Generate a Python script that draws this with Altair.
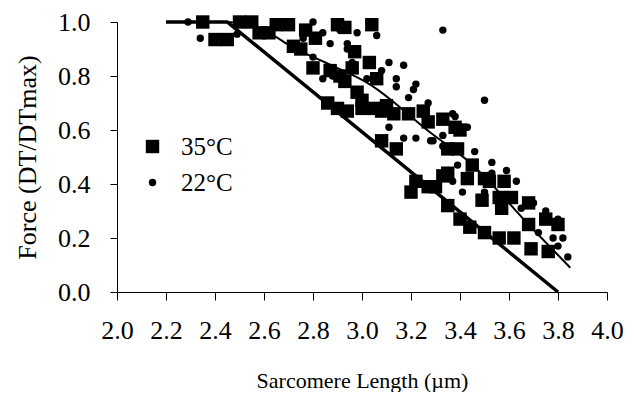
import altair as alt
import pandas as pd

FONT = "Liberation Serif"

# 35°C (squares)
sq_x = [2.35, 2.40, 2.45, 2.50, 2.55, 2.58, 2.62, 2.65, 2.70, 2.77, 2.81, 2.72, 2.75,
        2.90, 2.93, 3.04, 2.97, 3.03, 2.80, 2.87, 2.91, 2.96, 2.93, 2.98, 3.00, 3.06,
        2.86, 2.90, 2.94, 3.00, 3.05, 3.08, 3.13, 3.10, 3.19, 3.25, 3.27, 3.33, 3.38,
        3.40, 3.08, 3.14, 3.35, 3.39, 3.22, 3.20, 3.27, 3.30, 3.33, 3.35, 3.43, 3.45,
        3.50, 3.52, 3.58, 3.49, 3.56, 3.57, 3.61, 3.68, 3.75, 3.80, 3.68, 3.35, 3.40,
        3.44, 3.50, 3.56, 3.62, 3.69, 3.76]
sq_y = [1.00, 0.935, 0.935, 1.00, 1.00, 0.96, 0.96, 0.99, 0.99, 0.97, 0.94, 0.91, 0.90,
        0.99, 0.98, 0.99, 0.89, 0.85, 0.83, 0.82, 0.80, 0.83, 0.78, 0.74, 0.71, 0.79,
        0.70, 0.68, 0.67, 0.68, 0.68, 0.67, 0.66, 0.69, 0.66, 0.67, 0.63, 0.64, 0.61,
        0.60, 0.56, 0.53, 0.53, 0.53, 0.41, 0.37, 0.39, 0.39, 0.43, 0.44, 0.42, 0.47,
        0.42, 0.41, 0.41, 0.34, 0.35, 0.31, 0.35, 0.33, 0.27, 0.25, 0.25, 0.32, 0.27,
        0.24, 0.22, 0.20, 0.20, 0.16, 0.15]

# 22°C (circles)
ci_x = [2.29, 2.34, 2.49, 2.64, 2.80, 2.76, 2.84, 2.82, 2.87, 2.91, 2.98, 2.94, 2.94,
        3.06, 3.33, 2.80, 2.84, 2.88, 2.96, 3.02, 3.11, 3.17, 3.08, 3.14, 3.14, 3.22,
        3.21, 3.19, 3.27, 3.11, 3.17, 3.22, 3.29, 3.37, 3.33, 3.33, 3.28, 3.38, 3.43,
        3.46, 3.39, 3.37, 3.53, 3.53, 3.59, 3.63, 3.41, 3.50, 3.56, 3.70, 3.75, 3.80,
        3.80, 3.84, 3.50, 3.65, 3.72, 3.78, 3.82]
ci_y = [1.00, 0.94, 0.955, 1.00, 1.00, 0.94, 0.96, 0.93, 0.92, 0.97, 0.96, 0.92, 0.90,
        0.95, 0.97, 0.87, 0.79, 0.80, 0.85, 0.79, 0.85, 0.84, 0.82, 0.79, 0.76, 0.77,
        0.75, 0.72, 0.70, 0.61, 0.57, 0.57, 0.56, 0.66, 0.58, 0.54, 0.56, 0.65, 0.61,
        0.52, 0.47, 0.41, 0.48, 0.44, 0.45, 0.41, 0.37, 0.37, 0.35, 0.33, 0.30, 0.27,
        0.17, 0.13, 0.71, 0.31, 0.22, 0.20, 0.20]

# fitted lines
thick_x = [2.2, 2.45, 3.8]
thick_y = [1.0, 1.0, 0.0]
thin_x = [2.2, 2.45, 2.52, 2.62, 2.71, 2.85, 3.03, 3.28, 3.44, 3.69, 3.85]
thin_y = [1.0, 1.0, 0.99, 0.96, 0.91, 0.85, 0.77, 0.59, 0.48, 0.24, 0.09]

x_ticks = [2.0, 2.2, 2.4, 2.6, 2.8, 3.0, 3.2, 3.4, 3.6, 3.8, 4.0]
y_ticks = [0.0, 0.2, 0.4, 0.6, 0.8, 1.0]
series = ["35°C", "22°C"]

pts = pd.DataFrame({
    "x": sq_x + ci_x,
    "y": sq_y + ci_y,
    "series": [series[0]] * len(sq_x) + [series[1]] * len(ci_x),
})
thick = pd.DataFrame({"x": thick_x, "y": thick_y})
thin = pd.DataFrame({"x": thin_x, "y": thin_y})

xs = alt.Scale(domain=[2.0, 4.0], nice=False, zero=False)
ys = alt.Scale(domain=[0.0, 1.0], nice=False)

x_axis = alt.Axis(values=x_ticks, format=".1f", grid=False, tickSize=8,
                  tickColor="black", domainColor="black", tickWidth=1, domainWidth=1,
                  labelFont=FONT, labelFontSize=26, labelColor="black", labelPadding=17,
                  labelFlush=False, labelOverlap=False,
                  title="Sarcomere Length (µm)", titleFont=FONT, titleFontSize=22,
                  titleFontWeight="normal", titleColor="black", titlePadding=27)
y_axis = alt.Axis(values=y_ticks, format=".1f", grid=False, tickSize=7,
                  tickColor="black", domainColor="black", tickWidth=1, domainWidth=1,
                  labelFont=FONT, labelFontSize=26, labelColor="black", labelPadding=20,
                  labelFlush=False, labelOverlap=False,
                  title="Force (DT/DTmax)", titleFont=FONT, titleFontSize=26,
                  titleFontWeight="normal", titleColor="black", titlePadding=17)

legend = alt.Legend(title=None, orient="none", legendX=23, legendY=112,
                    labelFont=FONT, labelFontSize=25, labelColor="black",
                    labelOffset=16, rowPadding=10,
                    symbolFillColor="black", symbolStrokeColor="black",
                    symbolStrokeWidth=0)

points = alt.Chart(pts).mark_point(filled=True, opacity=1, color="black", strokeWidth=0).encode(
    x=alt.X("x:Q", scale=xs, axis=x_axis),
    y=alt.Y("y:Q", scale=ys, axis=y_axis),
    shape=alt.Shape("series:N", scale=alt.Scale(domain=series, range=["square", "circle"]),
                    legend=legend),
    size=alt.Size("series:N", scale=alt.Scale(domain=series, range=[180, 55]),
                  legend=legend),
)

thick_line = alt.Chart(thick).mark_line(color="black", strokeWidth=3.5).encode(
    x=alt.X("x:Q", scale=xs), y=alt.Y("y:Q", scale=ys))
thin_line = alt.Chart(thin).mark_line(color="black", strokeWidth=2, interpolate="monotone").encode(
    x=alt.X("x:Q", scale=xs), y=alt.Y("y:Q", scale=ys))

chart = alt.layer(points, thick_line, thin_line).properties(
    width=490, height=270,
    padding={"left": 109, "top": 14, "right": 18, "bottom": 100},
    autosize=alt.AutoSizeParams(type="none"),
    background="white",
).configure_view(stroke=None)

chart.save("out.html", embed_options={"renderer": "svg", "actions": False})
